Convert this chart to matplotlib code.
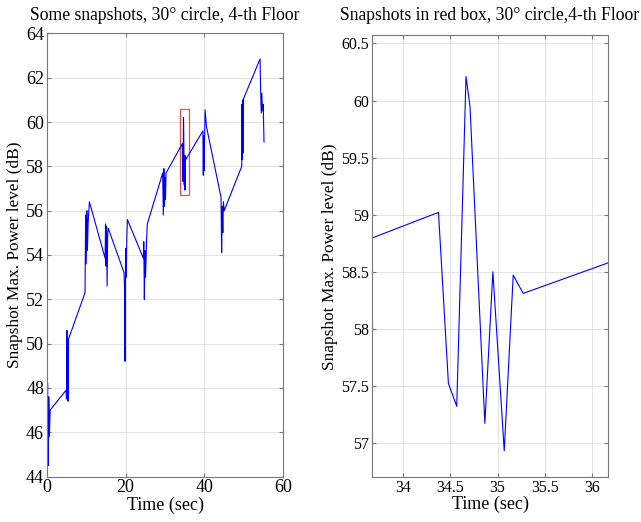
import numpy as np
import matplotlib
matplotlib.use('Agg')
import matplotlib.pyplot as plt
from matplotlib.patches import Rectangle

plt.rcParams['font.family'] = ['Liberation Serif', 'DejaVu Serif']

# snapshot max power (time in sec, level in dB)
t = [0.0, 0.1, 0.2, 0.35, 0.5, 0.65, 0.85,
     4.9, 5.0, 5.1, 5.2, 5.3, 5.4, 5.5,
     9.7, 9.85, 10.0, 10.15, 10.3, 10.5, 10.8,
     14.8, 14.9, 15.0, 15.15, 15.3, 15.45, 15.6,
     19.6, 19.7, 19.85, 20.0, 20.15, 20.3, 20.45,
     24.5, 24.6, 24.75, 24.9, 25.05, 25.3, 25.5,
     29.4, 29.55, 29.7, 29.85, 30.0, 30.1, 30.25,
     34.375, 34.48, 34.568, 34.666, 34.708, 34.865, 34.95, 35.07, 35.165, 35.27,
     39.6, 39.7, 39.8, 39.9, 40.0, 40.15, 40.5,
     44.2, 44.35, 44.5, 44.65, 44.8, 45.0,
     49.45, 49.5, 49.6, 49.7, 49.8, 49.9,
     54.1, 54.25, 54.4, 54.55, 54.7, 54.9, 55.1]
power = [48.6, 46.5, 48.2, 44.5, 47.6, 45.8, 47.0,
         47.9, 47.5, 50.6, 47.7, 49.8, 47.4, 50.2,
         52.3, 55.8, 53.6, 56.0, 54.2, 55.5, 56.4,
         53.85, 55.4, 53.5, 55.3, 52.6, 55.0, 55.2,
         53.2, 52.6, 49.2, 54.3, 53.0, 54.8, 55.6,
         53.85, 54.6, 52.0, 54.2, 53.0, 54.6, 55.4,
         57.7, 55.8, 57.9, 56.2, 57.5, 56.5, 57.7,
         59.02, 57.52, 57.32, 60.21, 59.95, 57.17, 58.5, 56.93, 58.47, 58.31,
         59.6, 57.6, 59.4, 57.8, 59.0, 60.55, 59.8,
         56.6, 54.1, 56.2, 55.0, 56.4, 56.0,
         58.0, 60.8, 58.3, 61.0, 58.6, 61.05,
         62.85, 61.4, 60.4, 61.3, 60.5, 60.8, 59.1]

# red box / zoom window
box_x = [33.67, 36.17]
box_y = [56.7, 60.57]

ylab = 'Snapshot Max. Power level (dB)'

fig = plt.figure(figsize=(6.41, 5.22), dpi=100)
ax1 = fig.add_axes([0.073, 0.087, 0.369, 0.849])
ax2 = fig.add_axes([0.580, 0.086, 0.369, 0.846])

for ax, tsize in ((ax1, 13), (ax2, 11.5)):
    ax.plot(t, power, color='blue', lw=0.8)
    ax.grid(True, color='#e4e4e4', lw=0.7)
    ax.set_axisbelow(True)
    ax.tick_params(direction='in', top=True, right=True, labelsize=tsize,
                   length=3, color='#777777', pad=2)
    for s in ax.spines.values():
        s.set_color('#777777')
    ax.set_xlabel('Time (sec)', fontsize=13, labelpad=0)
    ax.set_ylabel(ylab, fontsize=12.4, labelpad=2)

ax1.set_xlim(0, 60)
ax1.set_ylim(44, 64)
ax1.set_xticks([0, 20, 40, 60])
ax1.set_yticks(np.arange(44, 65, 2))
ax1.add_patch(Rectangle((box_x[0], box_y[0]), box_x[1] - box_x[0],
                        box_y[1] - box_y[0], fill=False, ec='#e05050', lw=0.9))
ax1.set_title('Some snapshots, 30° circle, 4-th Floor', fontsize=12.7, pad=10)

ax2.set_xlim(box_x)
ax2.set_ylim(box_y)
ax2.set_xticks([34, 34.5, 35, 35.5, 36])
ax2.set_xticklabels(['34', '34.5', '35', '35.5', '36'])
ax2.set_yticks(np.arange(57, 60.6, 0.5))
ax2.set_yticklabels(['57', '57.5', '58', '58.5', '59', '59.5', '60', '60.5'])
ax2.set_title('Snapshots in red box, 30° circle,4-th Floor', fontsize=12.7, pad=11)

fig.savefig('out.png', dpi=100)
